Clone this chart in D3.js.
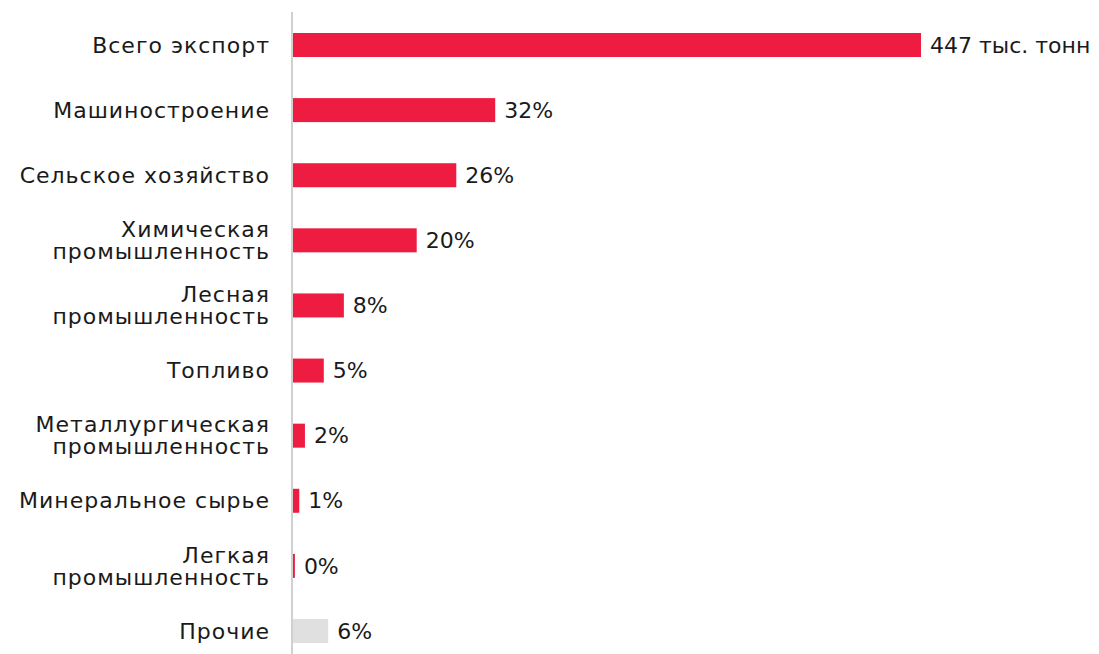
<!DOCTYPE html>
<html>
<head>
<meta charset="utf-8">
<script src="https://cdn.jsdelivr.net/npm/d3@7"></script>
<style>
  body { margin: 0; background: #fff; }
  text { font-family: "DejaVu Sans", "Noto Sans", sans-serif; fill: #1a1a1a; }
  text.cat { letter-spacing: 1px; }
</style>
</head>
<body>
<div id="chart"></div>
<script>
// categories (label lines) top to bottom
let categories = [
    ["Всего экспорт"],
    ["Машиностроение"],
    ["Сельское хозяйство"],
    ["Химическая", "промышленность"],
    ["Лесная", "промышленность"],
    ["Топливо"],
    ["Металлургическая", "промышленность"],
    ["Минеральное сырье"],
    ["Легкая", "промышленность"],
    ["Прочие"]
];
// share of total export, %
let shares = [100, 32.2, 26, 19.7, 8.1, 4.9, 1.9, 1.0, 0.3, 5.6];
let valueLabels = ["447 тыс. тонн", "32%", "26%", "20%", "8%", "5%", "2%", "1%", "0%", "6%"];
let isOther = [false, false, false, false, false, false, false, false, false, true];

let width = 1099, height = 654;
let margin = {top: 45, bottom: 23, left: 293, right: 178};

let svg = d3.select("#chart").append("svg")
    .attr("width", width)
    .attr("height", height);

let idx = d3.range(categories.length);

let x = d3.scaleLinear()
    .domain([0, 100])
    .range([margin.left, width - margin.right]);
let y = d3.scalePoint()
    .domain(idx)
    .range([margin.top, height - margin.bottom]);

let barH = 24;

svg.selectAll("rect.bar")
    .data(idx)
    .enter()
    .append("rect")
    .attr("class", "bar")
    .attr("x", x(0))
    .attr("y", i => y(i) - barH / 2)
    .attr("width", i => x(shares[i]) - x(0))
    .attr("height", barH)
    .style("fill", i => isOther[i] ? "#e0e0e0" : "#ed1c40");

// vertical axis line
svg.append("line")
    .attr("x1", x(0) - 1)
    .attr("x2", x(0) - 1)
    .attr("y1", 12)
    .attr("y2", height)
    .style("stroke", "#d0d0d0")
    .style("stroke-width", 2);

// category labels
let lineH = 22;
let labels = svg.selectAll("text.cat")
    .data(idx)
    .enter()
    .append("text")
    .attr("class", "cat")
    .attr("text-anchor", "end")
    .style("font-size", "22px")
    .attr("transform", i => "translate(270," + y(i) + ")");

labels.selectAll("tspan")
    .data(i => categories[i].map((t, k) => ({t: t, k: k, n: categories[i].length})))
    .enter()
    .append("tspan")
    .attr("x", 0)
    .attr("y", d => (d.k - (d.n - 1) / 2) * lineH)
    .attr("dy", "0.35em")
    .text(d => d.t);

// value labels
svg.selectAll("text.val")
    .data(idx)
    .enter()
    .append("text")
    .attr("class", "val")
    .attr("x", i => x(shares[i]) + 9)
    .attr("y", i => y(i))
    .attr("dy", "0.35em")
    .style("font-size", "22px")
    .text(i => valueLabels[i]);
</script>
</body>
</html>
